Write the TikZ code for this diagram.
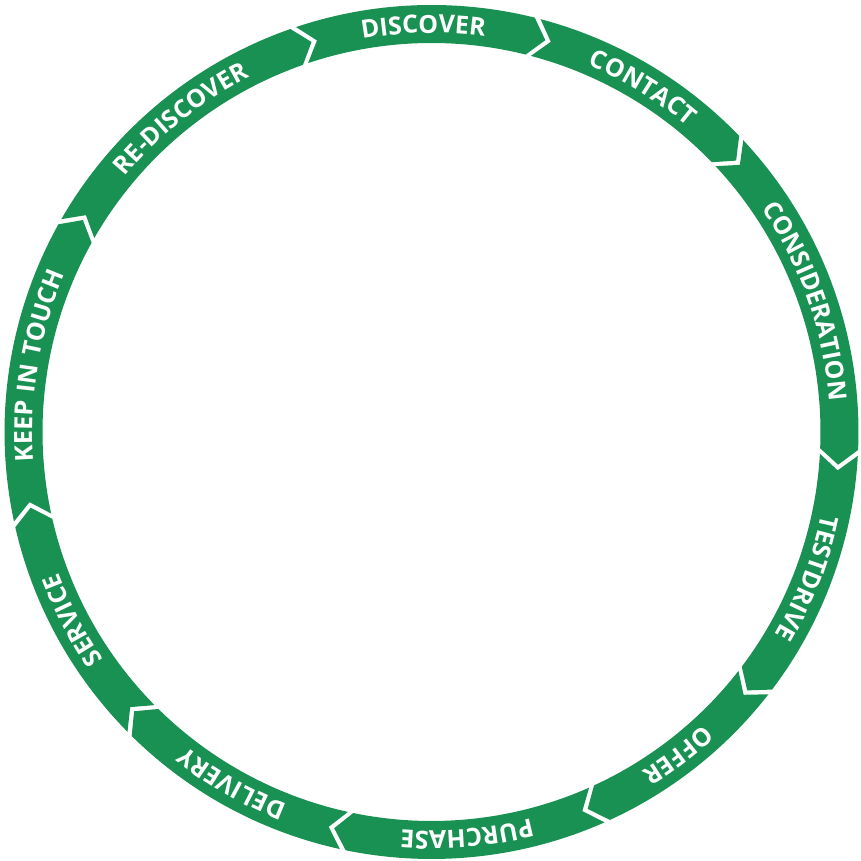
\documentclass[tikz,border=0pt]{standalone}
\usepackage{fontspec}
\newfontfamily\stagefamily[LetterSpace=4]{Open Sans}
\usetikzlibrary{decorations.text}
\definecolor{stagegreen}{RGB}{24,145,82}
\tikzstyle{stage}=[fill=stagegreen]
\tikzstyle{stage label}=[decorate]
\newcommand{\stagefont}{\stagefamily\bfseries\fontsize{7.1}{8}\selectfont\color{white}}
% one chevron of the ring, from angle #1 clockwise to angle #2
\newcommand{\stage}[3]{%
  \fill[stage] (#1-0.4:4.27) arc[start angle=#1-0.4, end angle=#2+0.4, radius=4.27]
    -- (#2+0.4-2.2:4.08) -- (#2+0.4:3.89)
    arc[start angle=#2+0.4, end angle=#1-0.4, radius=3.89]
    -- (#1-0.4-2.2:4.08) -- cycle;
  \path[stage label, decoration={text along path, text={|\stagefont|#3}, text align=center}]
    (#1-1.1:3.99) arc[start angle=#1-1.1, end angle=#2-1.1, radius=3.99];
}

\begin{document}
\begin{tikzpicture}
  \useasboundingbox (-4.315,-4.29) rectangle (4.295,4.32);
  \stage{108.9}{75.6}{DISCOVER}
  \stage{75.6}{43.5}{CONTACT}
  \stage{43.5}{-2.8}{CONSIDERATION}
  \stage{-2.8}{-37.5}{TESTDRIVE}
  \stage{-37.5}{-65.7}{OFFER}
  \stage{-65.7}{-102}{PURCHASE}
  \stage{-102}{-135}{DELIVERY}
  \stage{-135}{-167.5}{SERVICE}
  \stage{192.5}{150.5}{KEEP IN TOUCH}
  \stage{150.5}{108.9}{RE-DISCOVER}
\end{tikzpicture}
\end{document}
